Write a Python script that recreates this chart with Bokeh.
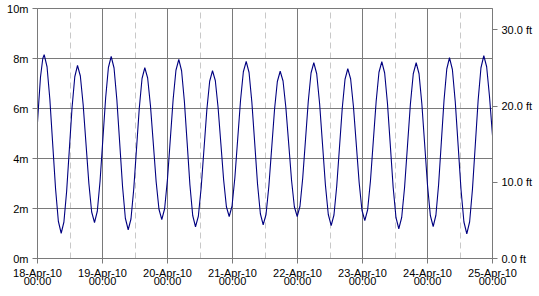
import numpy as np
import pandas as pd
from bokeh.plotting import figure
from bokeh.models import (Range1d, LinearAxis, FixedTicker, PrintfTickFormatter,
                          DatetimeTickFormatter, ColumnDataSource)
from bokeh.embed import file_html
from bokeh.resources import INLINE

# ---- data ----
start_date = "2010-04-18 00:00"
end_date = "2010-04-25 00:00"
day_ticks = ["2010-04-18", "2010-04-19", "2010-04-20", "2010-04-21",
             "2010-04-22", "2010-04-23", "2010-04-24", "2010-04-25"]
noon_ticks = ["2010-04-18 12:00", "2010-04-19 12:00", "2010-04-20 12:00",
              "2010-04-21 12:00", "2010-04-22 12:00", "2010-04-23 12:00",
              "2010-04-24 12:00"]

# hours since 18-Apr-10 00:00
hours = [0.0, 0.5, 1.1, 1.95, 2.47,
         3.52, 4.56, 5.61, 6.66, 7.70, 8.75,
         9.75, 10.76, 11.76, 12.76, 13.77, 14.77,
         15.82, 16.86, 17.91, 18.96, 20.00, 21.05,
         22.08, 23.10, 24.13, 25.16, 26.18, 27.21,
         28.26, 29.30, 30.35, 31.40, 32.44, 33.49,
         34.51, 35.53, 36.56, 37.58, 38.60, 39.62,
         40.67, 41.71, 42.76, 43.80, 44.85, 45.89,
         46.94, 47.98, 49.03, 50.08, 51.12, 52.17,
         53.20, 54.23, 55.26, 56.28, 57.31, 58.34,
         59.39, 60.43, 61.48, 62.53, 63.57, 64.62,
         65.65, 66.67, 67.70, 68.73, 69.75, 70.78,
         71.83, 72.87, 73.92, 74.97, 76.01, 77.06,
         78.11, 79.15, 80.20, 81.24, 82.29, 83.33,
         84.38, 85.42, 86.47, 87.52, 88.56, 89.61,
         90.66, 91.70, 92.75, 93.80, 94.84, 95.89,
         96.91, 97.93, 98.96, 99.98, 101.00, 102.02,
         103.09, 104.16, 105.23, 106.30, 107.37, 108.44,
         109.46, 110.48, 111.51, 112.53, 113.55, 114.57,
         115.62, 116.66, 117.71, 118.76, 119.80, 120.85,
         121.90, 122.94, 123.99, 125.04, 126.08, 127.13,
         128.18, 129.22, 130.27, 131.31, 132.36, 133.40,
         134.47, 135.54, 136.61, 137.68, 138.75, 139.82,
         140.87, 141.91, 142.96, 144.01, 145.05, 146.10,
         147.10, 148.11, 149.11, 150.11, 151.12, 152.12,
         153.19, 154.25, 155.32, 156.38, 157.45, 158.51,
         159.56, 160.60, 161.65, 162.70, 163.74, 164.79,
         165.84, 166.89, 168.0]

# tide height in metres
height_m = [5.45, 6.30, 7.25, 8.00, 8.15,
            7.67, 6.37, 4.58, 2.80, 1.49, 1.01,
            1.46, 2.69, 4.37, 6.04, 7.27, 7.72,
            7.30, 6.15, 4.58, 3.01, 1.86, 1.44,
            1.89, 3.10, 4.76, 6.42, 7.64, 8.08,
            7.62, 6.35, 4.62, 2.88, 1.61, 1.15,
            1.58, 2.77, 4.39, 6.01, 7.20, 7.63,
            7.22, 6.11, 4.60, 3.08, 1.97, 1.56,
            1.99, 3.16, 4.76, 6.36, 7.53, 7.96,
            7.51, 6.29, 4.62, 2.94, 1.72, 1.27,
            1.69, 2.83, 4.39, 5.95, 7.09, 7.51,
            7.12, 6.05, 4.60, 3.14, 2.07, 1.68,
            2.10, 3.23, 4.78, 6.33, 7.47, 7.88,
            7.44, 6.25, 4.62, 2.98, 1.79, 1.35,
            1.76, 2.89, 4.42, 5.96, 7.08, 7.49,
            7.10, 6.04, 4.59, 3.13, 2.07, 1.68,
            2.09, 3.22, 4.76, 6.29, 7.42, 7.83,
            7.39, 6.20, 4.58, 2.95, 1.76, 1.32,
            1.74, 2.89, 4.46, 6.02, 7.17, 7.59,
            7.18, 6.07, 4.56, 3.04, 1.93, 1.52,
            1.95, 3.11, 4.70, 6.28, 7.45, 7.87,
            7.42, 6.20, 4.53, 2.86, 1.64, 1.19,
            1.64, 2.85, 4.51, 6.17, 7.39, 7.83,
            7.39, 6.19, 4.56, 2.92, 1.72, 1.28,
            1.73, 2.97, 4.66, 6.34, 7.58, 8.03,
            7.56, 6.27, 4.51, 2.75, 1.46, 0.99,
            1.47, 2.77, 4.55, 6.33, 7.63, 8.11,
            7.67, 6.48, 4.92]

m_ticks = [0, 2, 4, 6, 8, 10]
ft_ticks = [0, 10, 20, 30]
M_PER_FT = 0.3048

# ---- build ----
t0 = pd.Timestamp(start_date)
times = t0 + pd.to_timedelta(np.array(hours), unit="h")
src = ColumnDataSource(data=dict(t=times, h=height_m))

def ms(s):
    return pd.Timestamp(s).value / 1e6

FONT = "Liberation Sans"
GRID = "#7a7a7a"

p = figure(width=539, height=296, x_axis_type="datetime",
           x_range=Range1d(pd.Timestamp(start_date), pd.Timestamp(end_date)),
           y_range=Range1d(0, 10),
           output_backend="svg", toolbar_location=None,
           min_border_left=37, min_border_right=47,
           min_border_top=8, min_border_bottom=38)
p.background_fill_color = "white"
p.border_fill_color = "white"
p.outline_line_color = GRID
p.outline_line_width = 1

p.extra_y_ranges = {"ft": Range1d(0, 10 / M_PER_FT)}

p.line("t", "h", source=src, line_color="#000080", line_width=1.1)

# x axis
xt = FixedTicker(ticks=[ms(d) for d in day_ticks],
                 minor_ticks=[ms(d) for d in noon_ticks])
xa = p.xaxis[0]
xa.ticker = xt
fmt = "%d-%b-%y\n%H:%M"
xa.formatter = DatetimeTickFormatter(milliseconds=fmt, seconds=fmt, minsec=fmt,
                                     minutes=fmt, hourmin=fmt, hours=fmt,
                                     days=fmt, months=fmt, years=fmt)
xa.major_label_text_line_height = 0.72

# left axis
ya = p.yaxis[0]
ya.ticker = FixedTicker(ticks=m_ticks)
ya.formatter = PrintfTickFormatter(format="%dm")

# right axis
ra = LinearAxis(y_range_name="ft", ticker=FixedTicker(ticks=ft_ticks),
                formatter=PrintfTickFormatter(format="%.1f ft"))
p.add_layout(ra, "right")

for ax in [xa, ya, ra]:
    ax.axis_line_color = GRID
    ax.major_tick_line_color = GRID
    ax.major_tick_out = 5
    ax.major_tick_in = 0
    ax.minor_tick_line_color = None
    ax.major_label_text_font = FONT
    ax.major_label_text_font_size = "11px"
    ax.major_label_text_color = "black"
    ax.major_label_standoff = 4

xa.major_label_standoff = 3

p.xgrid.grid_line_color = GRID
p.xgrid.grid_line_width = 1
p.xgrid.minor_grid_line_color = "#c8c8c8"
p.xgrid.minor_grid_line_dash = "6 4"
p.xgrid.minor_grid_line_width = 1
p.ygrid.ticker = FixedTicker(ticks=m_ticks)
p.ygrid.grid_line_color = GRID
p.ygrid.grid_line_width = 1

open("out.html", "w").write(file_html(p, INLINE))
